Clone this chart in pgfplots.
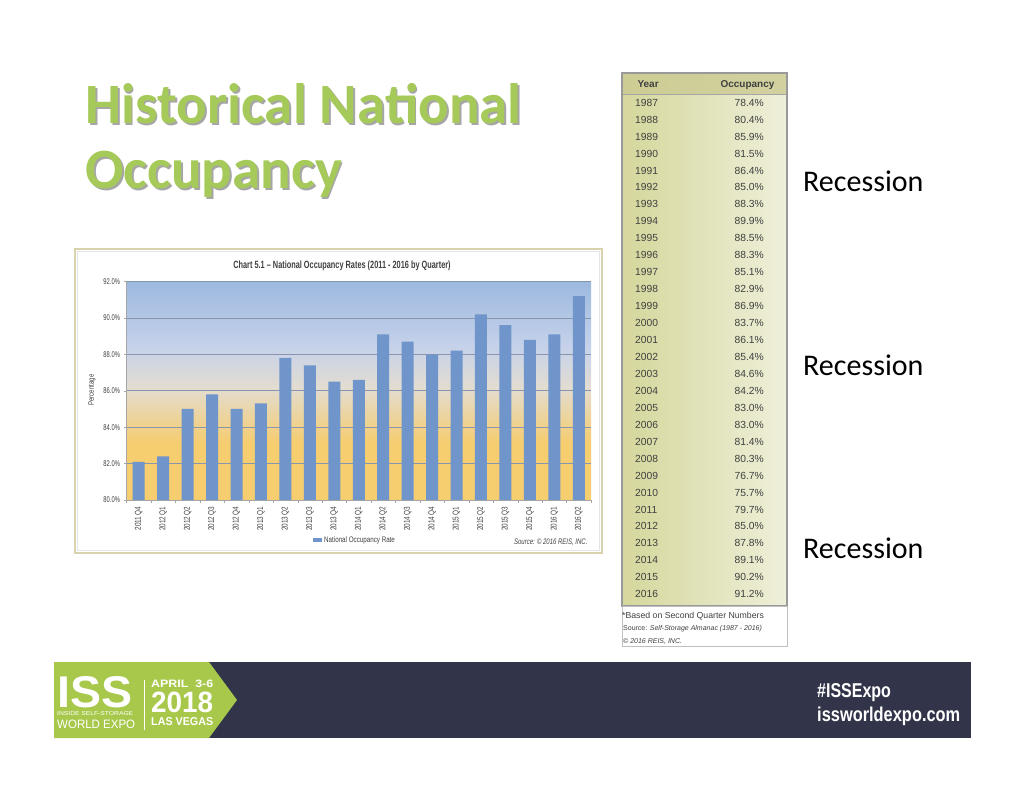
\documentclass[border=0pt]{standalone}
\usepackage{pgfplots}
\pgfplotsset{compat=1.18}
\usepackage{graphicx}
\usepackage{fontspec}
\setmainfont{Liberation Sans}
\newfontfamily\calibri{Carlito}

\definecolor{titlegreen}{HTML}{A6CA59}
\definecolor{barblue}{HTML}{6F95CB}
\definecolor{gridc}{HTML}{8696AE}
\definecolor{navy}{HTML}{32354A}
\definecolor{issgreen}{HTML}{A8C84C}
\definecolor{framec}{HTML}{D8D3AC}
\definecolor{tabl}{HTML}{D5D79C}
\definecolor{tabr}{HTML}{EEEFD9}
\definecolor{tabh}{HTML}{CBCA92}
\definecolor{txt}{HTML}{404040}
\definecolor{bgyel}{HTML}{F6CD6F}
\definecolor{bgmid}{HTML}{E2DCD2}
\definecolor{bgblue}{HTML}{9CB9DF}
\definecolor{bgblue2}{HTML}{C6D2EA}

% path box is mapped onto 25bp..75bp
\pgfdeclareverticalshading{plotbg}{100bp}{color(0bp)=(bgyel); color(38bp)=(bgyel); color(51bp)=(bgmid); color(60bp)=(bgblue2); color(75bp)=(bgblue); color(100bp)=(bgblue)}

\newcommand\narrow[2][0.72]{\scalebox{#1}[1]{#2}}

\begin{document}
\begin{tikzpicture}
\begin{scope}[x=1pt,y=-1pt]
\path[use as bounding box] (0,0) rectangle (1024,791);
\fill[white] (0,0) rectangle (1024,791);

% slide title
\foreach \dx/\col/\op in {1.8/black/0.35, 0/titlegreen/1} {
  \node[anchor=base west, inner sep=0, text=\col, opacity=\op,
    font=\calibri\bfseries\fontsize{57}{62}\selectfont] at (85+\dx,124+\dx) {Historical National};
  \node[anchor=base west, inner sep=0, text=\col, opacity=\op,
    font=\calibri\bfseries\fontsize{57}{62}\selectfont] at (85+\dx,189+\dx) {Occupancy};
}

% chart frame
\draw[framec, line width=2pt, fill=white] (75,249) rectangle (602,553);
\draw[black!10, line width=0.6pt] (77.5,251.5) rectangle (599.5,550.5);
\node[text=txt, font=\bfseries\fontsize{10.5}{12}\selectfont] at (342,266)
  {\narrow[0.7]{Chart 5.1 – National Occupancy Rates (2011 - 2016 by Quarter)}};
\node[rotate=90, text=txt, font=\fontsize{8}{9}\selectfont] at (92,390) {\narrow[0.75]{Percentage}};
\node[anchor=east, text=txt, font=\itshape\fontsize{8}{9}\selectfont] at (591,542)
  {\narrow[0.75]{Source: © 2016 REIS, INC.}};

% table
\shade[left color=tabl, right color=tabr] (622,73) rectangle (787,606);
\fill[tabh, opacity=0.8] (622,73) rectangle (787,94);
\draw[black!35, line width=0.8pt] (622,94) -- (787,94);
\draw[black!40, line width=1.5pt] (622,73) rectangle (787,606);
\draw[black!25, line width=0.8pt, fill=white] (622,606) rectangle (787,646);
\node[anchor=base west, text=txt, font=\bfseries\fontsize{10}{12}\selectfont] at (634,88) {Year};
\node[anchor=base east, text=txt, font=\bfseries\fontsize{10}{12}\selectfont] at (778,88) {Occupancy};
\foreach \yr/\val [count=\i] in {1987/78.4, 1988/80.4, 1989/85.9, 1990/81.5, 1991/86.4,
  1992/85.0, 1993/88.3, 1994/89.9, 1995/88.5, 1996/88.3, 1997/85.1, 1998/82.9, 1999/86.9,
  2000/83.7, 2001/86.1, 2002/85.4, 2003/84.6, 2004/84.2, 2005/83.0, 2006/83.0, 2007/81.4,
  2008/80.3, 2009/76.7, 2010/75.7, 2011/79.7, 2012/85.0, 2013/87.8, 2014/89.1, 2015/90.2,
  2016/91.2} {
  \node[anchor=west, inner sep=0, text=txt, font=\fontsize{10.3}{12}\selectfont] at (635,{102.7+(\i-1)*16.95}) {\yr};
  \node[anchor=east, inner sep=0, text=txt, font=\fontsize{10.3}{12}\selectfont] at (764,{102.7+(\i-1)*16.95}) {\val\%};
}
\node[anchor=west, inner sep=0, text=txt, font=\fontsize{8.7}{10}\selectfont] at (622,616) {*Based on Second Quarter Numbers};
\node[anchor=west, inner sep=0, text=txt, font=\fontsize{7}{8}\selectfont] at (623,629) {Source: \textit{Self-Storage Almanac (1987 - 2016)}};
\node[anchor=west, inner sep=0, text=txt, font=\itshape\fontsize{7}{8}\selectfont] at (623,641) {© 2016 REIS, INC.};

% recession labels
\foreach \yy in {181,365,548}
  \node[anchor=west, inner sep=0, font=\calibri\fontsize{30}{34}\selectfont] at (803,\yy) {Recession};

% footer
\fill[navy] (209,662) rectangle (971,738);
\fill[issgreen] (54,662) -- (209,662) -- (237,700) -- (209,738) -- (54,738) -- cycle;
\node[anchor=base west, inner sep=0, text=white] at (57,707) {\resizebox{75pt}{31pt}{\bfseries ISS}};
\node[anchor=base west, inner sep=0, text=white] at (57,715.5) {\resizebox{76pt}{4pt}{INSIDE SELF-STORAGE}};
\node[anchor=base west, inner sep=0, text=white] at (57,728) {\resizebox{78pt}{8.5pt}{WORLD EXPO}};
\draw[white, line width=0.6pt] (144,680) -- (144,730);
\node[anchor=base west, inner sep=0, text=white] at (151,687.5) {\resizebox{62pt}{7.5pt}{\bfseries APRIL\ \ 3-6}};
\node[anchor=base west, inner sep=0, text=white] at (151,712) {\resizebox{62pt}{20.5pt}{\bfseries 2018}};
\node[anchor=base west, inner sep=0, text=white] at (151,725) {\resizebox{62pt}{8pt}{\bfseries LAS VEGAS}};
\node[anchor=base west, inner sep=0, text=white, font=\bfseries\fontsize{20}{22}\selectfont] at (817,697) {\narrow[0.8]{\#ISSExpo}};
\node[anchor=base west, inner sep=0, text=white, font=\bfseries\fontsize{20}{22}\selectfont] at (817,721) {\narrow[0.82]{issworldexpo.com}};
\end{scope}

\begin{axis}[
  at={(126.5pt,-500pt)}, anchor=south west,
  scale only axis, width=464.5pt, height=218.5pt,
  xmin=-0.5, xmax=18.5, ymin=80, ymax=92,
  axis background/.style={shading=plotbg},
  ybar, bar width=12pt,
  axis lines*=left,
  axis line style={black!35, line width=0.6pt},
  ytick={80,82,...,92},
  ymajorgrids, grid style={gridc, line width=0.8pt},
  /pgf/number format/assume math mode=true,
  yticklabel={\pgfmathprintnumber[fixed,fixed zerofill,precision=1]{\tick}\%},
  yticklabel style={font={\fontsize{8.3}{9}\selectfont\addfontfeature{FakeStretch=0.7}}, text=txt},
  xtick={0,...,18},
  xticklabels={2011 Q4,2012 Q1,2012 Q2,2012 Q3,2012 Q4,2013 Q1,2013 Q2,2013 Q3,2013 Q4,
    2014 Q1,2014 Q2,2014 Q3,2014 Q4,2015 Q1,2015 Q2,2015 Q3,2015 Q4,2016 Q1,2016 Q2},
  xticklabel style={rotate=90, anchor=east, text=txt,
    font={\fontsize{8.5}{9}\selectfont\addfontfeature{FakeStretch=0.75}}},
  major x tick style={draw=none},
  minor xtick={-0.5,0.5,...,18.5},
  tick align=outside, major tick length=3pt, minor tick length=3pt,
  tick style={black!35},
  legend style={at={(0.4015,-0.1831)}, anchor=west, draw=none, fill=none,
    inner sep=0pt, font=\fontsize{8}{9}\selectfont, text=txt},
  legend image code/.code={\fill[barblue] (0pt,-2pt) rectangle (9pt,2pt);},
]
\addplot[fill=barblue, draw=none] coordinates {
  (0,82.1) (1,82.4) (2,85.0) (3,85.8) (4,85.0) (5,85.3) (6,87.8) (7,87.4) (8,86.5)
  (9,86.6) (10,89.1) (11,88.7) (12,88.0) (13,88.2) (14,90.2) (15,89.6) (16,88.8)
  (17,89.1) (18,91.2)};
\addlegendentry{\narrow[0.78]{National Occupancy Rate}}
\end{axis}
\end{tikzpicture}
\end{document}
